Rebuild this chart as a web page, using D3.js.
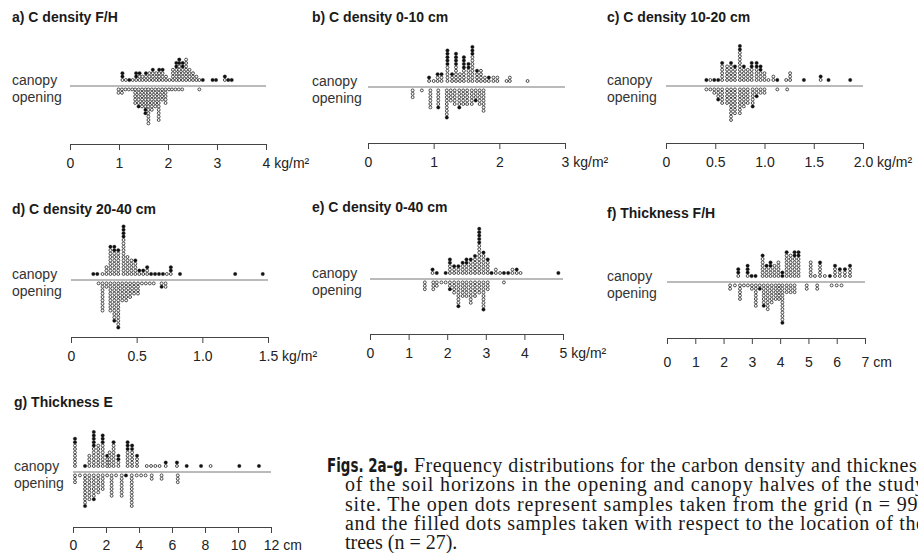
<!DOCTYPE html>
<html>
<head>
<meta charset="utf-8">
<script src="https://cdn.jsdelivr.net/npm/d3@7"></script>
<style>
  body { margin: 0; background: #fff; }
  svg { display: block; }
</style>
</head>
<body>
<div class="chart"></div>
<script>
var svgWidth = 918;
var svgHeight = 553;

// panel titles and axis ticks
var titles = ["a) C density F/H", "b) C density 0-10 cm", "c) C density 10-20 cm",
  "d) C density 20-40 cm", "e) C density 0-40 cm", "f) Thickness F/H", "g) Thickness E"];
var aTicks = [0, 1, 2, 3, 4];
var bTicks = [0, 1, 2, 3];
var cTicks = [0, 0.5, 1.0, 1.5, 2.0];
var dTicks = [0, 0.5, 1.0, 1.5];
var eTicks = [0, 1, 2, 3, 4, 5];
var fTicks = [0, 1, 2, 3, 4, 5, 6, 7];
var gTicks = [0, 2, 4, 6, 8, 10, 12];

// dot columns: [value, open dots, filled dots]  (filled ones stack away from the line)
var aCanopy = [[1.07,1,2],[1.14,1,0],[1.21,0,1],[1.28,1,0],[1.35,1,2],[1.42,2,1],[1.48,2,0],[1.55,2,1],
  [1.62,3,0],[1.69,3,1],[1.76,3,0],[1.82,3,1],[1.89,3,1],[1.96,2,0],[2.03,1,0],[2.10,4,0],[2.17,4,2],
  [2.23,5,2],[2.30,4,2],[2.37,7,0],[2.44,4,0],[2.51,3,0],[2.58,2,0],[2.64,1,0],[2.71,0,1],[2.91,0,1],
  [2.98,0,1],[3.16,1,1],[3.23,0,1],[3.30,0,1]];
var aOpening = [[0.99,2,0],[1.06,2,0],[1.13,1,0],[1.20,1,0],[1.27,1,0],[1.33,5,0],[1.40,5,1],[1.47,6,0],
  [1.54,6,2],[1.60,11,0],[1.67,7,0],[1.74,6,0],[1.81,10,0],[1.88,4,0],[1.95,5,0],[2.02,1,0],[2.08,1,0],
  [2.15,1,0],[2.22,1,0],[2.29,1,0],[2.64,1,0]];

var bCanopy = [[0.93,1,1],[1.00,1,0],[1.06,2,1],[1.12,2,1],[1.21,5,5],[1.28,2,1],[1.34,5,4],[1.40,3,0],
  [1.46,4,4],[1.53,4,2],[1.59,8,3],[1.66,3,1],[1.72,4,0],[1.78,2,0],[1.84,1,1],[1.91,2,0],[1.97,2,0],
  [2.11,1,0],[2.16,2,0],[2.43,1,0]];
var bOpening = [[0.68,3,0],[0.82,1,0],[0.95,6,0],[1.07,5,1],[1.20,8,1],[1.26,4,0],[1.32,5,0],[1.39,5,1],
  [1.45,5,0],[1.51,5,0],[1.58,5,0],[1.64,3,1],[1.70,5,0],[1.76,7,0]];

var cCanopy = [[0.41,0,1],[0.45,1,0],[0.49,0,1],[0.53,0,1],[0.57,5,1],[0.62,5,0],[0.66,5,1],[0.70,4,1],
  [0.75,9,2],[0.79,4,1],[0.83,4,0],[0.87,4,2],[0.92,4,2],[0.96,3,2],[1.00,3,0],[1.04,1,0],[1.09,2,0],
  [1.13,0,1],[1.22,1,0],[1.26,3,0],[1.40,0,1],[1.57,1,1],[1.65,0,1],[1.87,0,1]];
var cOpening = [[0.41,1,0],[0.45,1,0],[0.49,2,0],[0.53,3,1],[0.57,5,0],[0.62,5,0],[0.66,10,0],[0.70,8,0],
  [0.75,8,0],[0.79,6,0],[0.83,5,0],[0.88,5,1],[0.92,2,1],[0.96,2,0],[1.00,2,0],[1.13,1,0],[1.23,1,0]];

var dCanopy = [[0.17,0,1],[0.20,0,1],[0.24,1,0],[0.27,3,0],[0.30,8,1],[0.33,7,2],[0.36,7,1],[0.40,11,4],
  [0.43,6,0],[0.46,5,0],[0.49,4,1],[0.52,1,1],[0.55,1,1],[0.58,2,1],[0.61,0,1],[0.64,0,1],[0.67,0,1],
  [0.70,0,1],[0.73,1,0],[0.76,1,2],[0.83,0,1],[1.25,0,1],[1.46,0,1]];
var dOpening = [[0.21,1,0],[0.24,9,0],[0.27,2,0],[0.30,9,0],[0.33,11,1],[0.36,13,1],[0.39,6,0],[0.42,6,0],
  [0.45,5,0],[0.48,4,0],[0.51,4,0],[0.54,1,0],[0.57,1,0],[0.60,1,0],[0.63,1,0],[0.69,1,1],[0.72,2,0]];

var eCanopy = [[1.62,1,1],[1.73,0,1],[1.96,0,1],[2.07,3,2],[2.18,2,1],[2.29,2,1],[2.40,3,1],[2.50,3,2],
  [2.61,4,1],[2.72,5,1],[2.83,9,5],[2.94,6,1],[3.05,4,1],[3.15,0,1],[3.26,2,0],[3.37,1,0],[3.47,0,1],
  [3.58,0,1],[3.69,2,0],[3.80,1,1],[3.90,1,0],[4.88,0,1]];
var eOpening = [[1.42,3,0],[1.64,3,0],[1.73,2,0],[1.85,1,0],[1.96,1,0],[2.07,2,1],[2.18,4,0],[2.29,7,1],
  [2.40,5,0],[2.50,5,0],[2.61,7,0],[2.72,5,0],[2.83,4,0],[2.94,8,1],[3.05,3,0],[3.47,1,0]];

var fCanopy = [[2.52,1,2],[2.85,1,3],[2.99,0,1],[3.13,0,1],[3.38,6,1],[3.52,3,1],[3.66,3,2],[3.80,4,0],
  [3.94,5,0],[4.08,0,2],[4.23,7,1],[4.37,7,0],[4.51,6,2],[4.65,6,2],[5.08,5,0],[5.23,1,0],[5.41,4,1],
  [5.58,1,0],[5.76,0,1],[5.94,3,1],[6.11,2,1],[6.29,2,1],[6.47,3,1]];
var fOpening = [[2.23,2,0],[2.40,1,0],[2.58,5,0],[2.72,1,0],[2.86,1,0],[3.00,2,0],[3.14,7,0],[3.28,1,1],
  [3.42,6,1],[3.56,8,0],[3.70,6,0],[3.84,5,0],[3.96,5,0],[4.08,11,1],[4.23,3,0],[4.37,3,0],[4.51,3,0],
  [4.94,2,0],[5.31,2,0],[5.82,1,0],[6.00,1,0],[6.17,1,0]];

var gCanopy = [[0.12,7,2],[0.73,0,1],[0.99,4,0],[1.26,6,5],[1.53,7,0],[1.80,7,3],[2.07,3,1],[2.22,5,0],
  [2.46,7,1],[2.75,2,2],[3.31,5,3],[3.58,5,2],[3.88,3,1],[4.47,1,0],[4.73,1,0],[4.99,1,0],[5.25,1,0],
  [5.62,1,1],[6.30,1,1],[6.89,0,1],[7.76,0,1],[8.34,1,0],[10.08,0,1],[11.27,0,1]];
var gOpening = [[0.12,3,0],[0.42,1,0],[0.73,9,1],[0.99,8,0],[1.26,7,1],[1.53,6,0],[1.80,5,0],[2.07,1,0],
  [2.34,7,0],[2.61,1,0],[2.95,7,0],[3.21,0,1],[3.56,10,0],[3.86,1,0],[4.13,1,0],[4.40,1,0],[4.77,2,0],
  [5.37,2,0],[6.35,3,0]];

var captionBold = "Figs. 2a\u2013g.";
var captionLines = [
  "Frequency distributions for the carbon density and thickness",
  "of the soil horizons in the opening and canopy halves of the study",
  "site. The open dots represent samples taken from the grid (n = 99)",
  "and the filled dots samples taken with respect to the location of the",
  "trees (n = 27)."
];

var fmtInt = d => String(d);
var fmtDec = d => d === 0 ? "0" : d3.format(".1f")(d);

// layout of each small panel
var panels = [
  {title: titles[0], ticks: aTicks, unit: "kg/m\u00b2", fmt: fmtInt, canopy: aCanopy, opening: aOpening,
   left: 12, x0: 70, x1: 266, titleY: 22, base: 86, axisY: 144, pad: 8},
  {title: titles[1], ticks: bTicks, unit: "kg/m\u00b2", fmt: fmtInt, canopy: bCanopy, opening: bOpening,
   left: 312, x0: 368, x1: 565, titleY: 22, base: 87, axisY: 143, pad: 8},
  {title: titles[2], ticks: cTicks, unit: "kg/m\u00b2", fmt: fmtDec, canopy: cCanopy, opening: cOpening,
   left: 607, x0: 666, x1: 863, titleY: 22, base: 86, axisY: 143, pad: 8},
  {title: titles[3], ticks: dTicks, unit: "kg/m\u00b2", fmt: fmtDec, canopy: dCanopy, opening: dOpening,
   left: 12, x0: 71, x1: 268, titleY: 214, base: 280, axisY: 337, pad: 8},
  {title: titles[4], ticks: eTicks, unit: "kg/m\u00b2", fmt: fmtInt, canopy: eCanopy, opening: eOpening,
   left: 312, x0: 370, x1: 563, titleY: 212, base: 279, axisY: 334, pad: 8},
  {title: titles[5], ticks: fTicks, unit: "cm", fmt: fmtInt, canopy: fCanopy, opening: fOpening,
   left: 607, x0: 667, x1: 865, titleY: 218, base: 282, axisY: 338, pad: 13},
  {title: titles[6], ticks: gTicks, unit: "cm", fmt: fmtInt, canopy: gCanopy, opening: gOpening,
   left: 14, x0: 73, x1: 271, titleY: 407, base: 472, axisY: 527, pad: 7}
];

var rowStep = 3.4;

var svg = d3.select(".chart")
  .append("svg")
  .attr("width", svgWidth)
  .attr("height", svgHeight)
  .style("font-family", "'Liberation Sans', Arial, sans-serif");

panels.forEach(function(p) {
  var g = svg.append("g");

  var x = d3.scaleLinear()
    .domain([0, d3.max(p.ticks)])
    .range([p.x0, p.x1]);

  // row positions above / below the dividing line
  var yUp = d3.scaleLinear().domain([0, 1]).range([p.base - 6, p.base - 6 - rowStep]);
  var yDown = d3.scaleLinear().domain([0, 1]).range([p.base + 3.4, p.base + 3.4 + rowStep]);

  g.append("text")
    .attr("x", p.left)
    .attr("y", p.titleY)
    .attr("font-size", 14)
    .attr("font-weight", "bold")
    .attr("fill", "#1a1a1a")
    .text(p.title);

  g.append("text")
    .attr("x", p.left)
    .attr("y", p.base - 1)
    .attr("font-size", 14)
    .attr("fill", "#333")
    .text("canopy");

  g.append("text")
    .attr("x", p.left)
    .attr("y", p.base + 16)
    .attr("font-size", 14)
    .attr("fill", "#333")
    .text("opening");

  g.append("line")
    .attr("x1", x(0))
    .attr("x2", x(d3.max(p.ticks)))
    .attr("y1", p.base)
    .attr("y2", p.base)
    .attr("stroke", "#777")
    .attr("stroke-width", 1);

  // expand columns to single dots
  var dots = [];
  p.canopy.forEach(function(c) {
    for (var i = 0; i < c[1] + c[2]; i++) dots.push({v: c[0], y: yUp(i), filled: i >= c[1]});
  });
  p.opening.forEach(function(c) {
    for (var i = 0; i < c[1] + c[2]; i++) dots.push({v: c[0], y: yDown(i), filled: i >= c[1]});
  });

  g.selectAll(".dot")
    .data(dots)
    .enter()
    .append("circle")
    .attr("class", "dot")
    .attr("cx", d => x(d.v))
    .attr("cy", d => d.y)
    .attr("r", d => d.filled ? 1.75 : 1.45)
    .attr("fill", d => d.filled ? "#111" : "#fff")
    .attr("stroke", "#222")
    .attr("stroke-width", d => d.filled ? 0.3 : 0.8);

  var axis = d3.axisBottom(x)
    .tickValues(p.ticks)
    .tickFormat(p.fmt)
    .tickSize(6)
    .tickSizeOuter(0)
    .tickPadding(p.pad);

  var ax = g.append("g")
    .attr("transform", `translate(0, ${p.axisY})`)
    .call(axis);

  ax.select(".domain").attr("stroke", "#444");
  ax.selectAll(".tick line").attr("stroke", "#444");
  ax.selectAll(".tick text")
    .attr("font-size", 14)
    .attr("font-family", "'Liberation Sans', Arial, sans-serif")
    .attr("fill", "#222");

  // last label carries the unit
  var last = ax.selectAll(".tick text").filter((d, i, n) => i === n.length - 1);
  var w = last.node().getComputedTextLength();
  last.attr("text-anchor", "start")
    .attr("x", -w / 2)
    .text(last.text() + " " + p.unit);
});

// caption, justified like the printed page (right edge runs past the frame)
var capTop = 472;
var capLead = 19.3;

var cap = svg.append("g")
  .attr("font-family", "'Liberation Serif', 'Times New Roman', serif")
  .attr("font-size", 20)
  .attr("fill", "#1a1a1a");

cap.append("text")
  .attr("x", 327)
  .attr("y", capTop)
  .attr("font-family", "'Liberation Sans Narrow', 'DejaVu Sans Condensed', sans-serif")
  .attr("font-weight", "bold")
  .attr("textLength", 81)
  .attr("lengthAdjust", "spacingAndGlyphs")
  .text(captionBold);

cap.selectAll(".capline")
  .data(captionLines)
  .enter()
  .append("text")
  .attr("class", "capline")
  .attr("x", (d, i) => i === 0 ? 414 : 345)
  .attr("y", (d, i) => capTop + i * capLead)
  .each(function(d, i) {
    if (i < captionLines.length - 1) {
      d3.select(this)
        .attr("textLength", i === 0 ? 511 : 580)
        .attr("lengthAdjust", "spacing");
    }
  })
  .text(d => d);
</script>
</body>
</html>
